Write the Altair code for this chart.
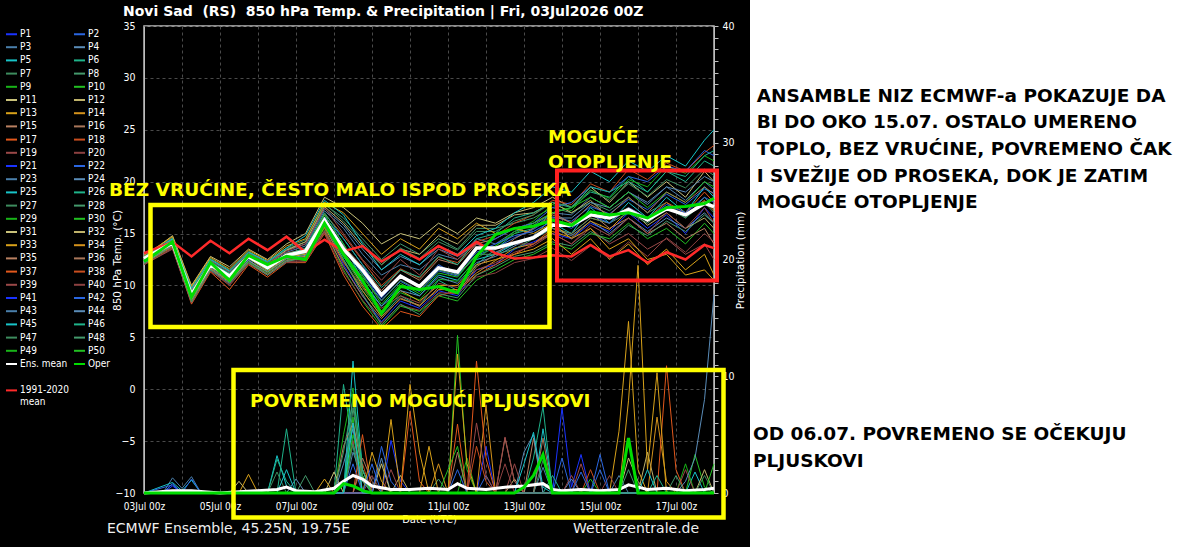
import altair as alt
import pandas as pd

# ---------------- data ----------------
# time axis: hours after 03Jul2026 00Z
HOURS = [0, 18, 30, 42, 54, 66, 78, 90, 102, 114,
         126, 138, 150, 162, 174, 186, 198, 210, 222, 234,
         246, 258, 270, 282, 294, 306, 318, 330, 342, 354,
         360]

ENS_MEAN = [12.6, 14.1, 9.1, 12.0, 10.9, 12.8, 11.7, 12.9, 13.3, 16.3,
            13.5, 11.5, 9.1, 10.9, 9.9, 11.7, 11.3, 13.6, 13.6, 14.1,
            14.6, 15.8, 15.8, 16.8, 16.5, 17.3, 16.3, 17.4, 16.8, 17.9,
            17.6]
OPER = [12.3, 14.2, 8.9, 12.2, 10.5, 12.9, 12.0, 12.8, 12.5, 16.0,
        13.0, 10.5, 7.3, 9.9, 9.6, 9.9, 9.3, 12.8, 14.9, 15.5,
        15.7, 16.3, 15.8, 17.1, 16.8, 17.0, 16.5, 17.5, 17.6, 17.9,
        18.4]
CLIM = [13.1, 14.2, 12.8, 14.3, 13.1, 14.5, 13.4, 14.7, 13.2, 14.4,
        13.3, 13.8, 12.3, 13.4, 12.5, 13.8, 12.9, 14.2, 13.1, 12.6,
        12.7, 12.9, 12.8, 13.9, 12.8, 13.4, 12.2, 13.2, 12.5, 13.9,
        13.6]

MEMBERS = {
    "P1": [12.2, 13.8, 9.5, 11.5, 10.2, 12.5, 11.0, 12.4, 12.8, 15.8,
           12.0, 9.0, 6.5, 8.5, 7.8, 9.5, 9.0, 11.5, 12.0, 13.5,
           14.2, 15.0, 14.5, 16.0, 15.2, 17.0, 15.5, 16.8, 15.0, 17.5, 16.5],
    "P2": [12.3, 13.9, 9.2, 11.9, 10.7, 12.6, 11.6, 12.8, 13.1, 16.4,
           13.8, 11.0, 8.6, 10.4, 9.4, 11.4, 10.9, 12.9, 13.6, 14.6,
           15.4, 16.6, 16.2, 17.6, 16.9, 18.3, 17.3, 18.8, 17.8, 19.3, 18.9],
    "P3": [12.8, 14.5, 9.0, 12.3, 11.0, 13.0, 12.0, 13.2, 13.8, 17.2,
           15.5, 13.0, 11.0, 12.0, 11.5, 13.0, 12.5, 14.5, 14.0, 15.2,
           15.8, 17.0, 16.8, 18.5, 17.5, 19.0, 17.8, 19.5, 18.2, 20.0, 19.2],
    "P4": [12.9, 14.4, 9.5, 12.4, 11.3, 13.1, 12.2, 13.4, 14.0, 17.4,
           15.8, 13.5, 11.5, 12.8, 12.0, 13.5, 12.8, 14.0, 13.2, 14.0,
           14.5, 15.5, 14.8, 16.2, 15.0, 16.5, 15.2, 16.5, 15.5, 17.0, 16.0],
    "P5": [12.5, 14.0, 8.8, 12.0, 10.8, 12.7, 11.5, 13.0, 13.5, 16.8,
           14.0, 10.5, 8.0, 10.0, 9.0, 11.0, 10.5, 12.5, 13.0, 14.0,
           14.5, 16.0, 15.0, 17.5, 16.0, 18.0, 16.5, 18.5, 17.0, 19.5, 18.5],
    "P6": [12.4, 14.3, 9.3, 12.2, 11.2, 12.9, 11.9, 12.8, 13.0, 16.0,
           12.5, 9.5, 7.0, 9.0, 8.0, 10.5, 9.5, 12.0, 13.5, 15.0,
           15.5, 17.0, 17.5, 19.0, 18.5, 20.5, 19.0, 21.0, 20.0, 22.0, 21.5],
    "P8": [12.9, 14.6, 9.8, 12.6, 11.5, 13.3, 12.2, 13.5, 14.2, 17.8,
           16.5, 14.5, 12.5, 14.0, 13.0, 14.5, 13.5, 15.5, 15.5, 16.0,
           16.5, 17.5, 17.0, 18.0, 17.2, 18.5, 17.0, 18.0, 16.5, 18.5, 17.5],
    "P9": [12.4, 14.0, 8.9, 11.8, 10.6, 12.6, 11.5, 12.8, 13.0, 16.1,
           12.8, 9.8, 7.2, 9.3, 8.6, 10.6, 10.4, 12.6, 13.8, 15.2,
           16.2, 17.8, 17.2, 19.2, 18.4, 20.2, 19.5, 21.5, 20.8, 22.5, 22.0],
    "P10": [12.0, 13.6, 8.5, 11.6, 10.4, 12.3, 11.2, 12.5, 12.5, 15.5,
            11.5, 8.5, 6.0, 8.0, 7.5, 9.0, 8.5, 10.5, 11.5, 12.5,
            13.0, 14.0, 13.5, 15.0, 14.5, 16.0, 14.5, 15.5, 14.0, 16.0, 15.0],
    "P11": [12.7, 14.8, 10.0, 12.8, 11.8, 13.5, 12.5, 14.0, 15.0, 18.5,
            17.5, 16.0, 14.0, 15.0, 14.5, 16.0, 15.0, 16.5, 16.0, 17.0,
            17.5, 18.5, 17.5, 19.5, 18.0, 20.0, 18.5, 20.0, 18.5, 21.0, 20.0],
    "P12": [12.6, 14.3, 9.6, 12.2, 11.0, 13.0, 12.0, 13.4, 14.2, 17.6,
            16.0, 13.8, 12.0, 13.5, 13.0, 14.8, 14.0, 15.8, 15.8, 16.8,
            17.0, 18.0, 17.0, 18.2, 16.5, 17.5, 15.8, 17.0, 15.5, 16.5, 15.5],
    "P13": [12.3, 14.0, 9.0, 11.8, 10.6, 12.6, 11.4, 12.7, 13.0, 16.5,
            13.0, 10.0, 7.5, 9.5, 8.5, 10.0, 10.0, 12.0, 12.5, 13.0,
            13.5, 14.5, 13.0, 14.5, 12.5, 14.0, 12.0, 13.5, 11.5, 13.0, 11.0],
    "P14": [12.2, 13.8, 8.6, 11.6, 10.4, 12.4, 11.3, 12.6, 12.8, 15.6,
            12.3, 9.5, 7.0, 8.7, 8.1, 9.6, 9.6, 11.2, 12.4, 13.6,
            14.0, 15.2, 14.6, 16.2, 15.4, 17.2, 16.2, 17.6, 16.8, 18.2, 17.2],
    "P15": [12.6, 14.2, 9.2, 12.1, 10.9, 12.9, 11.8, 13.1, 13.5, 16.2,
            13.8, 11.8, 9.5, 11.5, 10.5, 12.5, 12.0, 14.0, 14.5, 15.5,
            16.0, 17.0, 16.0, 17.0, 15.5, 16.5, 15.0, 16.0, 14.5, 15.5, 14.0],
    "P17": [12.1, 13.7, 8.2, 11.3, 9.6, 12.0, 10.8, 12.2, 12.2, 15.0,
            11.0, 8.0, 5.8, 7.5, 7.0, 9.0, 9.5, 11.0, 12.0, 13.0,
            14.0, 15.5, 15.0, 16.5, 16.0, 17.5, 16.5, 18.0, 17.0, 19.0, 18.0],
    "P18": [12.5, 14.1, 9.0, 12.0, 10.9, 12.8, 11.7, 13.0, 13.4, 16.9,
            14.8, 12.4, 10.0, 11.6, 10.7, 12.7, 12.2, 14.2, 14.8, 16.0,
            16.8, 18.2, 17.8, 19.8, 19.0, 21.2, 20.2, 21.8, 21.0, 22.8, 23.5],
    "P19": [12.8, 14.4, 9.6, 12.4, 11.3, 13.1, 12.1, 13.3, 14.0, 17.5,
            15.0, 12.5, 10.5, 12.5, 11.0, 13.5, 12.5, 14.0, 13.5, 14.0,
            14.0, 15.0, 14.0, 15.5, 14.0, 15.0, 13.5, 14.5, 13.0, 14.0, 12.5],
    "P20": [12.0, 13.6, 8.4, 11.4, 10.1, 12.1, 11.0, 12.2, 12.3, 15.1,
            11.3, 8.6, 6.4, 8.1, 7.6, 9.3, 9.2, 10.8, 11.2, 12.2,
            12.6, 13.6, 12.4, 13.8, 12.6, 14.2, 12.8, 14.6, 13.2, 15.0, 14.2],
    "P22": [12.4, 14.1, 9.1, 12.0, 10.9, 12.8, 11.6, 12.9, 13.2, 16.6,
            14.5, 12.0, 9.0, 11.0, 10.0, 12.0, 11.0, 13.5, 14.5, 15.5,
            16.0, 17.5, 18.0, 19.5, 19.0, 20.5, 20.0, 21.5, 21.0, 23.0, 22.5],
    "P24": [12.2, 13.9, 8.7, 11.7, 10.5, 12.4, 11.3, 12.6, 12.9, 16.0,
            12.8, 10.2, 8.0, 9.5, 9.0, 10.8, 10.2, 12.2, 12.8, 13.8,
            14.8, 16.5, 16.5, 18.0, 17.5, 19.0, 18.0, 19.5, 19.0, 20.5, 20.0],
    "P26": [12.7, 14.4, 9.4, 12.3, 11.1, 13.0, 11.9, 13.0, 13.6, 17.0,
            14.5, 12.0, 9.8, 11.5, 10.8, 12.8, 12.0, 14.5, 15.0, 16.5,
            17.0, 18.0, 17.5, 19.5, 19.0, 20.0, 19.0, 21.0, 20.5, 22.5, 23.0],
    "P27": [12.8, 14.5, 9.7, 12.5, 11.4, 13.2, 12.3, 13.6, 14.4, 17.9,
            16.2, 14.2, 12.0, 13.6, 12.6, 14.2, 13.4, 15.2, 15.2, 16.2,
            16.8, 18.0, 17.6, 19.2, 18.2, 19.8, 18.6, 20.2, 19.4, 21.2, 20.6],
    "P28": [12.5, 14.0, 8.9, 11.9, 10.7, 12.6, 11.5, 12.8, 13.1, 16.3,
            13.2, 10.8, 8.5, 10.5, 9.5, 11.5, 11.0, 13.0, 13.0, 13.5,
            14.5, 15.5, 15.0, 16.5, 16.0, 17.0, 16.0, 17.5, 16.5, 18.0, 17.0],
    "P30": [12.6, 14.2, 9.0, 12.1, 10.8, 12.9, 11.8, 13.0, 13.4, 16.8,
            14.0, 11.0, 8.2, 10.2, 9.2, 11.2, 10.8, 13.0, 13.8, 15.0,
            16.0, 17.0, 17.5, 18.5, 17.5, 19.0, 17.5, 19.0, 18.0, 20.0, 19.5],
    "P33": [12.9, 14.7, 9.9, 12.7, 11.6, 13.4, 12.4, 13.8, 14.5, 18.0,
            17.0, 15.0, 13.0, 14.5, 13.5, 15.5, 14.5, 16.0, 15.0, 15.5,
            15.0, 16.0, 14.5, 15.5, 13.5, 14.5, 12.5, 13.0, 11.0, 11.5, 10.5],
    "P36": [12.3, 13.9, 8.6, 11.6, 10.3, 12.2, 11.1, 12.4, 12.6, 15.2,
            11.8, 9.0, 6.8, 8.8, 8.0, 9.8, 9.2, 11.8, 13.0, 14.5,
            15.5, 16.8, 16.0, 17.8, 16.8, 18.5, 17.0, 19.0, 18.0, 19.5, 18.8],
    "P39": [12.0, 13.5, 8.3, 11.4, 10.0, 12.1, 11.0, 12.3, 12.4, 15.3,
            12.2, 9.8, 7.8, 9.0, 8.3, 10.2, 9.8, 11.5, 12.2, 13.2,
            13.8, 15.0, 14.0, 15.8, 14.8, 16.5, 15.0, 17.0, 15.5, 17.5, 16.0],
    "P42": [12.5, 14.2, 9.3, 12.1, 11.0, 12.8, 11.7, 12.9, 13.3, 16.5,
            13.5, 11.2, 8.8, 10.8, 9.8, 11.8, 11.2, 13.2, 14.0, 14.8,
            15.2, 16.2, 15.5, 16.8, 16.0, 17.5, 16.5, 17.8, 17.0, 18.5, 18.0],
    "P45": [12.7, 14.5, 9.7, 12.5, 11.4, 13.2, 12.3, 13.6, 14.8, 18.2,
            16.8, 14.0, 11.5, 13.0, 12.0, 13.8, 13.0, 14.8, 15.5, 17.0,
            18.0, 19.5, 19.0, 21.0, 20.0, 22.0, 21.0, 22.5, 21.5, 24.0, 25.0],
    "P48": [12.1, 13.8, 8.4, 11.5, 10.2, 12.2, 11.0, 12.3, 12.7, 15.8,
            12.5, 9.2, 6.2, 8.2, 7.2, 9.2, 8.8, 11.0, 11.8, 12.8,
            13.2, 14.2, 13.8, 15.2, 14.2, 15.8, 14.8, 16.2, 15.2, 16.8, 16.0],
}

# precipitation (hour, mm) points for each member
PRECIP_MEMBERS = {
    "P1": [(0, 0), (12, 0), (18, 0.6), (24, 0), (150, 0), (156, 4.5), (162, 1.0), (168, 0),
           (210, 0), (216, 4.0), (222, 0), (258, 0), (264, 7.3), (270, 0.5), (276, 3.3), (282, 0), (360, 0)],
    "P2": [(0, 0), (126, 0), (132, 2.5), (138, 0), (210, 0), (216, 1.5), (222, 0), (282, 0), (288, 2.0),
           (294, 0), (360, 0)],
    "P3": [(0, 0), (12, 0), (18, 1.3), (24, 0.4), (30, 1.4), (36, 0), (126, 0), (132, 3.5), (138, 1.2),
           (144, 0), (246, 0), (252, 2.2), (258, 0), (294, 0), (300, 1.5), (306, 0), (360, 0)],
    "P4": [(0, 0), (90, 0), (96, 1.2), (102, 0), (144, 0), (150, 3.0), (156, 0), (264, 0), (270, 1.2),
           (276, 0), (360, 0)],
    "P5": [(0, 0), (18, 0.9), (24, 0.2), (30, 1.1), (36, 0), (78, 0), (84, 3.2), (90, 0.6), (96, 0),
           (126, 0), (132, 11.3), (138, 2.0), (144, 0), (246, 0), (252, 5.5), (258, 0.4), (264, 0),
           (342, 0), (348, 1.8), (354, 0), (360, 0)],
    "P6": [(0, 0), (84, 0), (90, 5.5), (96, 0), (120, 0), (126, 9.3), (132, 4.0), (138, 0),
           (240, 0), (246, 3.0), (252, 7.4), (258, 0), (360, 0)],
    "P8": [(0, 0), (96, 0), (102, 1.5), (108, 0), (126, 0), (132, 7.3), (138, 1.5), (144, 0),
           (180, 0), (186, 1.2), (192, 0), (300, 0), (306, 2.0), (312, 0), (360, 0)],
    "P9": [(0, 0), (120, 0), (126, 5.0), (132, 9.0), (138, 2.0), (144, 0), (198, 0), (204, 3.0),
           (210, 0), (336, 0), (342, 2.5), (348, 0), (360, 0)],
    "P10": [(0, 0), (126, 0), (132, 6.5), (138, 0), (192, 0), (198, 13.5), (204, 2.0), (210, 0),
            (276, 0), (282, 1.2), (288, 0), (342, 0), (348, 3.3), (354, 0.5), (360, 0)],
    "P11": [(0, 0), (54, 0), (60, 1.0), (66, 0), (114, 0), (120, 1.8), (126, 0), (144, 0), (150, 2.5),
            (156, 0), (300, 0), (306, 3.0), (312, 1.0), (318, 0), (360, 0)],
    "P12": [(0, 0), (156, 0), (162, 1.5), (168, 0), (228, 0), (234, 1.2), (240, 0), (312, 0), (318, 3.5),
            (324, 0), (348, 0), (354, 2.0), (360, 0)],
    "P13": [(0, 0), (60, 0), (66, 1.6), (72, 0), (150, 0), (156, 6.3), (162, 0), (168, 9.3), (174, 3.5),
            (180, 0), (192, 0), (198, 11.9), (204, 2.5), (210, 0), (294, 0), (300, 5.3), (306, 14.7),
            (312, 2.0), (318, 0), (360, 0)],
    "P14": [(0, 0), (180, 0), (186, 2.5), (192, 0), (210, 0), (216, 7.5), (222, 0), (318, 0), (324, 6.5),
            (330, 1.0), (336, 0), (360, 0)],
    "P15": [(0, 0), (120, 0), (126, 4.0), (132, 6.0), (138, 2.0), (144, 0), (222, 0), (228, 4.7),
            (234, 1.0), (240, 0), (246, 4.7), (252, 0), (360, 0)],
    "P17": [(0, 0), (132, 0), (138, 5.0), (144, 0), (162, 0), (168, 7.0), (174, 1.0), (180, 0),
            (192, 0), (198, 5.9), (204, 0), (210, 11.3), (216, 3.0), (222, 0), (324, 0), (330, 10.9),
            (336, 2.0), (342, 0), (360, 0)],
    "P18": [(0, 0), (132, 0), (138, 2.5), (144, 0), (204, 0), (210, 4.0), (216, 1.0), (222, 0), (276, 0),
            (282, 2.0), (288, 0), (360, 0)],
    "P19": [(0, 0), (126, 0), (132, 4.5), (138, 0), (204, 0), (210, 6.0), (216, 1.5), (222, 0),
            (228, 4.8), (234, 1.0), (240, 0), (270, 0), (276, 2.5), (282, 0), (336, 0), (342, 2.0),
            (348, 0), (360, 0)],
    "P20": [(0, 0), (138, 0), (144, 1.5), (150, 0), (222, 0), (228, 2.5), (234, 0), (288, 0), (294, 1.5),
            (300, 0), (360, 0)],
    "P22": [(0, 0), (18, 0.7), (24, 0), (30, 1.2), (36, 0), (144, 0), (150, 4.0), (156, 1.0), (162, 0),
            (258, 0), (264, 3.0), (270, 0), (282, 0), (288, 3.3), (294, 0), (360, 0)],
    "P24": [(0, 0), (120, 0), (126, 2.5), (132, 5.5), (138, 0), (234, 0), (240, 3.5), (246, 5.0),
            (252, 0), (336, 0), (342, 1.0), (348, 3.0), (354, 8.0), (360, 17.0)],
    "P26": [(0, 0), (78, 0), (84, 2.9), (90, 1.0), (96, 0), (126, 0), (132, 8.5), (138, 2.0), (144, 0),
            (252, 0), (258, 1.5), (264, 0), (318, 0), (324, 1.5), (330, 0), (360, 0)],
    "P27": [(0, 0), (78, 0), (84, 1.8), (90, 0), (126, 0), (132, 4.2), (138, 1.0), (144, 0), (246, 0),
            (252, 2.8), (258, 0), (348, 0), (354, 1.5), (360, 0)],
    "P30": [(0, 0), (126, 0), (132, 5.0), (138, 1.5), (144, 0), (186, 0), (192, 2.0), (198, 4.0),
            (204, 0), (354, 0), (360, 2.5)],
    "P33": [(0, 0), (108, 0), (114, 1.2), (120, 0), (138, 0), (144, 3.5), (150, 1.0), (156, 0),
            (174, 0), (180, 4.0), (186, 0), (300, 0), (306, 7.9), (312, 19.5), (318, 2.0), (324, 10.3),
            (330, 0), (360, 0)],
    "P36": [(0, 0), (132, 0), (138, 3.0), (144, 1.0), (150, 0), (192, 0), (198, 3.5), (204, 0),
            (246, 0), (252, 4.7), (258, 0), (360, 0)],
    "P39": [(0, 0), (150, 0), (156, 2.0), (162, 0), (228, 0), (234, 2.5), (240, 0), (264, 0),
            (270, 1.5), (276, 0), (360, 0)],
    "P42": [(0, 0), (12, 0), (18, 0.8), (24, 0), (138, 0), (144, 2.5), (150, 0), (192, 0), (198, 2.0),
            (204, 0), (270, 0), (276, 1.8), (282, 0), (360, 0)],
    "P45": [(0, 0), (84, 0), (90, 2.0), (96, 0), (126, 0), (132, 6.0), (138, 0), (234, 0), (240, 2.5),
            (246, 5.2), (252, 0.5), (258, 0), (312, 0), (318, 2.0), (324, 0), (360, 0)],
    "P48": [(0, 0), (120, 0), (126, 3.5), (132, 8.0), (138, 1.0), (144, 0), (330, 0), (336, 1.5),
            (342, 0), (360, 0)],
}
PRECIP_MEAN = [(0, 0), (18, 0.2), (30, 0.2), (48, 0), (60, 0.1), (84, 0.3), (90, 0.5), (96, 0.2),
               (108, 0.1), (120, 0.4), (126, 1.0), (132, 1.5), (138, 1.2), (144, 0.6), (156, 0.3),
               (168, 0.3), (180, 0.4), (192, 0.3), (198, 0.8), (204, 0.4), (216, 0.3), (228, 0.5),
               (240, 0.6), (252, 0.8), (258, 0.3), (264, 0.2), (276, 0.3), (288, 0.2), (300, 0.3),
               (306, 0.7), (312, 0.5), (318, 0.3), (330, 0.4), (342, 0.2), (354, 0.3), (360, 0.4)]
PRECIP_OPER = [(0, 0), (120, 0), (126, 0.8), (132, 0.6), (138, 0.2), (144, 0), (234, 0), (240, 0.5),
               (246, 1.5), (252, 3.3), (258, 0), (300, 0), (306, 4.7), (312, 0), (360, 0)]

# legend entries: the legend fills column by column, so the left column holds the
# odd members and the right column the even ones (P1 P2 / P3 P4 ... as in the picture)
LEFT_COLUMN = [f"P{i}" for i in range(1, 51, 2)] + ["Ens. mean", "sp1", "1991-2020 mean"]
RIGHT_COLUMN = [f"P{i}" for i in range(2, 51, 2)] + ["Oper", "sp2"]
LEGEND_NAMES = LEFT_COLUMN + RIGHT_COLUMN

PALETTE = ["#1a33ff", "#2a66e0", "#4a7fab", "#5a8cb8", "#18c4c8", "#1fb38a", "#3d8c5e", "#44996c",
           "#18b418", "#22c022", "#c9c27a", "#bfb26a", "#d9a21a", "#d4921c", "#b98061", "#a8765a",
           "#e2581c", "#c94e1f", "#9a4848", "#8c4040"]
SPECIAL_COLORS = {"Ens. mean": "#ffffff", "Oper": "#00dd00", "sp1": "rgba(0,0,0,0)",
                  "sp2": "rgba(0,0,0,0)", "1991-2020 mean": "#ff2a2a"}


def series_color(name):
    if name in SPECIAL_COLORS:
        return SPECIAL_COLORS[name]
    return PALETTE[(int(name[1:]) - 1) % 20]


LEGEND_COLORS = [series_color(n) for n in LEGEND_NAMES]

for v in list(MEMBERS.values()) + [ENS_MEAN, OPER, CLIM]:
    assert len(v) == len(HOURS)

# ---------------- tables ----------------
temp_members = pd.DataFrame([
    {"series": name, "hour": h, "temp": t}
    for name, vals in MEMBERS.items() for h, t in zip(HOURS, vals)
])
temp_mean = pd.DataFrame({"series": "Ens. mean", "hour": HOURS, "temp": ENS_MEAN})
temp_oper = pd.DataFrame({"series": "Oper", "hour": HOURS, "temp": OPER})
temp_clim = pd.DataFrame({"series": "1991-2020 mean", "hour": HOURS, "temp": CLIM})

prec_members = pd.DataFrame([
    {"series": name, "hour": h, "mm": v}
    for name, pts in PRECIP_MEMBERS.items() for h, v in pts
])
prec_mean = pd.DataFrame([{"series": "Ens. mean", "hour": h, "mm": v} for h, v in PRECIP_MEAN])
prec_oper = pd.DataFrame([{"series": "Oper", "hour": h, "mm": v} for h, v in PRECIP_OPER])

SMALL_FONT = "DejaVu Sans Condensed, DejaVu Sans"

# ---------------- encodings ----------------
x_enc = alt.X(
    "hour:Q",
    scale=alt.Scale(domain=[0, 360], nice=False, zero=False),
    axis=alt.Axis(
        values=list(range(0, 361, 24)),
        labelExpr="(datum.value % 48 == 0) ? (((3 + datum.value/24) < 10 ? '0' : '') + (3 + datum.value/24) + 'Jul 00z') : ''",
        title="Date (UTC)", titleFontSize=10, titlePadding=3,
        ticks=False, labelFontSize=10, labelPadding=8, labelOverlap=False, labelFlush=False,
        grid=True,
    ),
)
y_temp = alt.Y(
    "temp:Q",
    scale=alt.Scale(domain=[-10, 35], nice=False, zero=False),
    axis=alt.Axis(
        values=list(range(-10, 36, 5)), title="850 hPa Temp. (°C)", titleFontSize=10.5,
        titleX=-27, titleY=234, titleAlign="center", titleBaseline="middle", titleAngle=270,
        ticks=False, labelFontSize=10.5, labelPadding=9, grid=True,
    ),
)
y_prec = alt.Y(
    "mm:Q",
    scale=alt.Scale(domain=[0, 40], nice=False),
    axis=alt.Axis(
        orient="right", values=list(range(0, 41)),
        labelExpr="datum.value % 10 == 0 ? datum.label : ''",
        grid=False, ticks=True, tickSize=4, tickColor="#bdbdbd", labelFontSize=10.5, labelPadding=4,
        title="Precipitation (mm)", titleAngle=270, titleFontSize=10.5,
        titleX=26, titleY=234, titleAlign="center", titleBaseline="middle",
    ),
)
color_enc = alt.Color(
    "series:N",
    scale=alt.Scale(domain=LEGEND_NAMES, range=LEGEND_COLORS),
    legend=alt.Legend(
        orient="none", legendX=-139, legendY=1.5, columns=2, title=None,
        symbolLimit=100, symbolType="stroke", symbolSize=121, symbolStrokeWidth=2,
        labelFontSize=10, labelColor="#ffffff", labelFont=SMALL_FONT, labelOffset=2,
        rowPadding=1.2, columnPadding=0, padding=0, labelLimit=150,
        labelExpr="datum.value == '1991-2020 mean' ? ['1991-2020', 'mean'] : ((datum.value == 'sp1' || datum.value == 'sp2') ? '' : datum.label)",
    ),
)

temp_layer = alt.layer(
    alt.Chart(temp_members).mark_line(strokeWidth=1).encode(x=x_enc, y=y_temp, color=color_enc),
    alt.Chart(temp_clim).mark_line(strokeWidth=2.5).encode(x=x_enc, y=y_temp, color=color_enc),
    alt.Chart(temp_mean).mark_line(strokeWidth=3.5).encode(x=x_enc, y=y_temp, color=color_enc),
    alt.Chart(temp_oper).mark_line(strokeWidth=3).encode(x=x_enc, y=y_temp, color=color_enc),
)
prec_layer = alt.layer(
    alt.Chart(prec_members).mark_line(strokeWidth=1).encode(x=x_enc, y=y_prec, color=color_enc),
    alt.Chart(prec_mean).mark_line(strokeWidth=3).encode(x=x_enc, y=y_prec, color=color_enc),
    alt.Chart(prec_oper).mark_line(strokeWidth=3).encode(x=x_enc, y=y_prec, color=color_enc),
)

# ---------------- annotations (pixel positions relative to plot origin at 144,26) ----------------
ONE = alt.Data(values=[{"a": 1}])


def text(txt, x, y, size, color, weight="bold"):
    return alt.Chart(ONE).mark_text(
        text=txt, fontSize=size, color=color, fontWeight=weight, font="DejaVu Sans",
        align="left", baseline="alphabetic",
    ).encode(x=alt.value(x), y=alt.value(y))


def box(x1, x2, y1, y2, color, width):
    return alt.Chart(ONE).mark_rect(fillOpacity=0, stroke=color, strokeWidth=width).encode(
        x=alt.value(x1), x2=alt.value(x2), y=alt.value(y1), y2=alt.value(y2)
    )


white_panel = alt.Chart(ONE).mark_rect(color="#ffffff").encode(
    x=alt.value(606), x2=alt.value(1060), y=alt.value(-30), y2=alt.value(525)
)

YEL = "#ffff00"
RED = "#ff2020"
annots = [
    white_panel,
    box(6.5, 405.5, 179, 301, YEL, 4.5),
    box(413, 573, 144.5, 254.5, RED, 4),
    box(89.5, 579.5, 344, 491.5, YEL, 4.5),
    text("Novi Sad\u00a0 (RS)\u00a0 850 hPa Temp. & Precipitation | Fri, 03Jul2026 00Z", -21, -10.5, 14, "#ffffff"),
    text("ECMWF Ensemble, 45.25N, 19.75E", -37, 507, 14, "#eeeeee", "normal"),
    text("Wetterzentrale.de", 429, 507, 14, "#eeeeee", "normal"),
    text("BEZ VRUĆINE, ČESTO MALO ISPOD PROSEKA", -35, 170, 18.5, YEL),
    text("MOGUĆE", 404, 117, 18.5, YEL),
    text("OTOPLJENJE", 404, 142.3, 18.5, YEL),
    text("POVREMENO MOGUĆI PLJUSKOVI", 106, 380.7, 18.5, YEL),
    text("ANSAMBLE NIZ ECMWF-a POKAZUJE DA", 612.7, 75.7, 18.5, "#000000"),
    text("BI DO OKO 15.07. OSTALO UMERENO", 612.7, 102.3, 18.5, "#000000"),
    text("TOPLO, BEZ VRUĆINE, POVREMENO ČAK", 612.7, 129, 18.5, "#000000"),
    text("I SVEŽIJE OD PROSEKA, DOK JE ZATIM", 612.7, 155.7, 18.5, "#000000"),
    text("MOGUĆE OTOPLJENJE", 612.7, 181.7, 18.5, "#000000"),
    text("OD 06.07. POVREMENO SE OČEKUJU", 609, 414, 18.5, "#000000"),
    text("PLJUSKOVI", 609, 440.7, 18.5, "#000000"),
]
annot_layer = alt.layer(*annots)

chart = (
    alt.layer(temp_layer, prec_layer, annot_layer)
    .resolve_scale(y="independent")
    .properties(
        width=570, height=467,
        autosize=alt.AutoSizeParams(type="none"),
        padding={"left": 144, "top": 26, "right": 486, "bottom": 54},
        background="#000000",
    )
    .configure_view(stroke="#bdbdbd", strokeWidth=1.5)
    .configure_axis(
        domainColor="#bdbdbd", labelColor="#ffffff", titleColor="#ffffff",
        gridColor="#4a4a4a", gridDash=[3, 3], gridWidth=1,
        labelFont=SMALL_FONT, titleFont="DejaVu Sans", titleFontWeight="normal",
    )
)

chart.save("out.html", embed_options={"renderer": "svg", "actions": False})
